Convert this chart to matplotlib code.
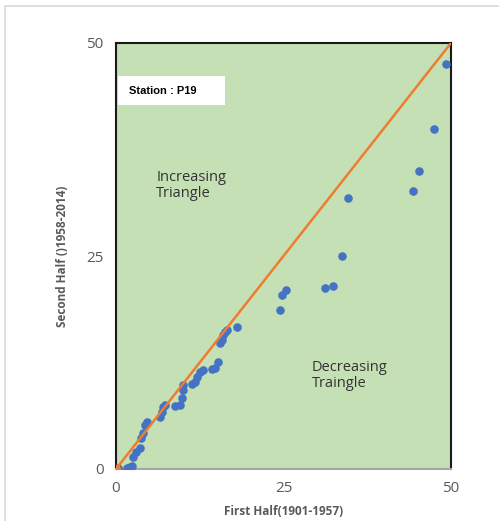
import matplotlib.pyplot as plt
from matplotlib.patches import Rectangle

# Station P19: first half vs second half values
first_half = [0.3, 1.6, 2.1, 2.4, 2.5, 3.0, 3.6, 3.7, 4.0, 4.3, 4.6,
              6.6, 6.9, 7.0, 7.3, 8.8, 9.6, 9.9, 10.0, 10.0, 11.3, 11.8,
              12.1, 12.5, 13.0, 14.3, 14.8, 15.2, 15.5, 15.8, 16.0, 16.3,
              16.6, 18.1, 24.5, 24.8, 25.4, 31.2, 32.4, 33.7, 34.6, 44.3,
              45.2, 47.5, 49.3]
second_half = [0.1, 0.1, 0.2, 0.35, 1.4, 2.0, 2.5, 3.6, 4.2, 5.2, 5.5,
               6.1, 6.7, 7.3, 7.5, 7.4, 7.5, 8.3, 9.3, 9.9, 10.0, 10.2,
               10.8, 11.4, 11.6, 11.7, 11.9, 12.6, 14.8, 15.1, 15.7, 16.1,
               16.3, 16.7, 18.7, 20.4, 21.0, 21.2, 21.5, 25.0, 31.8, 32.6,
               35.0, 39.9, 47.5]
line_x = [0, 50]
line_y = [0, 50]
ticks = [0, 25, 50]

fig = plt.figure(figsize=(4.99, 5.21), dpi=100)

# light outer frame
fig.patches.append(Rectangle((5 / 499, -0.01), 1.0, 1 - 6 / 521 + 0.01,
                             transform=fig.transFigure, fill=False,
                             edgecolor='#d9d9d9', linewidth=1.2))

ax = fig.add_axes([116 / 499, 1 - 469 / 521, 335 / 499, 426 / 521])
ax.set_facecolor('#c5e0b4')

ax.scatter(first_half, second_half, s=38, color='#4472c4', zorder=3,
           linewidths=0)
ax.plot(line_x, line_y, color='#ed7d31', linewidth=1.8, zorder=4)
ax.scatter([0], [0], s=45, color='#ed7d31', zorder=5, linewidths=0)

ax.set_xlim(0, 50)
ax.set_ylim(0, 50)
ax.set_xticks(ticks)
ax.set_yticks(ticks)
ax.tick_params(length=0, labelsize=11, labelcolor='#595959', pad=9)
for lab in ax.get_xticklabels() + ax.get_yticklabels():
    lab.set_fontfamily('Open Sans')

for sp in ax.spines.values():
    sp.set_color('#1a1a1a')
    sp.set_linewidth(1.5)
ax.spines['bottom'].set_color('#a6a6a6')

ax.set_xlabel('First Half(1901-1957)', fontsize=8.5, fontweight='bold',
              color='#595959', family='Open Sans', labelpad=6)
ax.set_ylabel('Second Half ()1958-2014)', fontsize=8.5, fontweight='bold',
              color='#595959', family='Open Sans', labelpad=12)

# station label box
ax.add_patch(Rectangle((0.006, 0.855), 0.32, 0.067, transform=ax.transAxes,
                       facecolor='white', edgecolor='none', zorder=2))
ax.text(0.04, 0.888, 'Station : P19', transform=ax.transAxes, fontsize=8,
        fontweight='bold', family='Liberation Sans', va='center', zorder=3)

ax.text(0.12, 0.665, 'Increasing\nTriangle', transform=ax.transAxes,
        fontsize=10.5, color='#333333', family='Open Sans', va='center',
        linespacing=1.1)
ax.text(0.585, 0.22, 'Decreasing\nTraingle', transform=ax.transAxes,
        fontsize=10.5, color='#333333', family='Open Sans', va='center',
        linespacing=1.1)

fig.savefig('out.png', dpi=100)
